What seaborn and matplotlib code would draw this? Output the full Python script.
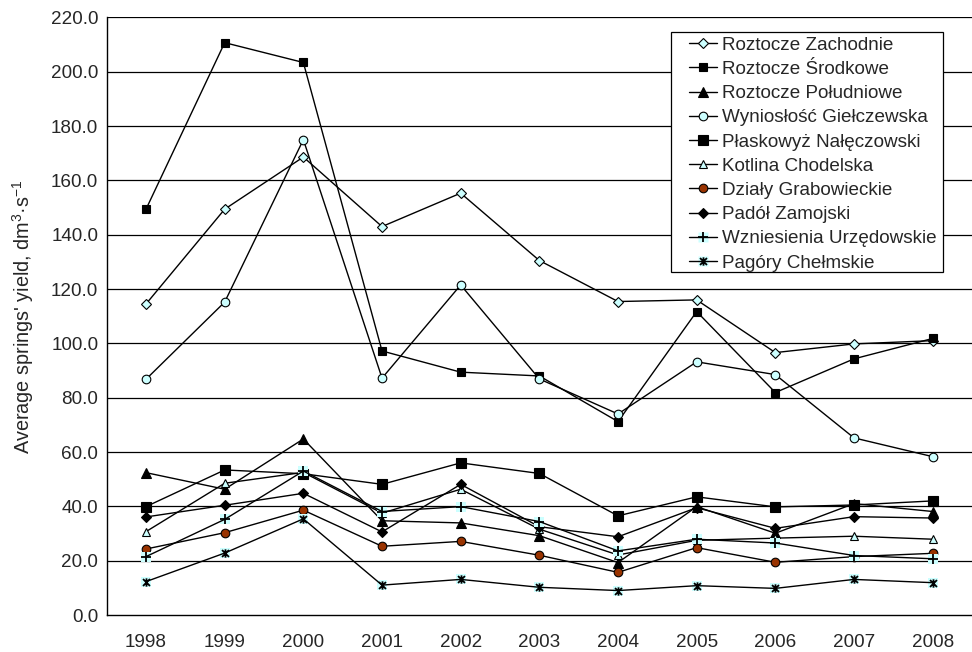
import numpy as np
import matplotlib
matplotlib.use("Agg")
import matplotlib.pyplot as plt
import seaborn as sns
from matplotlib.path import Path
from matplotlib.lines import Line2D
from matplotlib.patches import Rectangle
from matplotlib.legend_handler import HandlerTuple

# ---------------- data ----------------
years = ["1998", "1999", "2000", "2001", "2002", "2003", "2004", "2005", "2006", "2007", "2008"]

roztocze_zachodnie = [114.5, 149.4, 168.6, 143.0, 155.3, 130.5, 115.4, 116.0, 96.6, 99.8, 101.0]
roztocze_srodkowe = [149.4, 210.7, 203.4, 97.2, 89.4, 88.0, 71.2, 111.7, 81.9, 94.3, 101.8]
roztocze_poludniowe = [52.4, 46.3, 64.8, 34.7, 33.9, 29.2, 19.3, 39.9, 30.1, 41.0, 38.1]
wyniosl_gielczewska = [86.8, 115.2, 175.0, 87.2, 121.5, 86.9, 74.0, 93.2, 88.5, 65.2, 58.3]
plaskowyz_naleczowski = [39.9, 53.4, 52.0, 48.1, 56.0, 52.1, 36.5, 43.5, 39.8, 40.5, 42.0]
kotlina_chodelska = [30.7, 48.5, 52.5, 37.5, 46.3, 31.6, 22.1, 27.5, 28.3, 29.0, 27.9]
dzialy_grabowieckie = [24.3, 30.3, 38.6, 25.3, 27.1, 22.0, 15.7, 24.8, 19.4, 21.5, 22.7]
padol_zamojski = [36.1, 40.4, 44.8, 30.6, 48.1, 32.5, 28.8, 39.5, 31.9, 36.2, 35.7]
wzniesienia_urzedowskie = [21.5, 35.2, 53.0, 38.1, 39.9, 34.4, 23.6, 27.9, 26.5, 21.9, 20.7]
pagory_chelmskie = [12.3, 22.8, 35.4, 11.0, 13.1, 10.2, 9.0, 10.8, 9.8, 13.1, 11.9]

labels = ["Roztocze Zachodnie", "Roztocze Środkowe", "Roztocze Południowe",
          "Wyniosłość Giełczewska", "Płaskowyż Nałęczowski", "Kotlina Chodelska",
          "Działy Grabowieckie", "Padół Zamojski", "Wzniesienia Urzędowskie",
          "Pagóry Chełmskie"]
y_ticks = [0, 20, 40, 60, 80, 100, 120, 140, 160, 180, 200, 220]

series = [roztocze_zachodnie, roztocze_srodkowe, roztocze_poludniowe, wyniosl_gielczewska,
          plaskowyz_naleczowski, kotlina_chodelska, dzialy_grabowieckie, padol_zamojski,
          wzniesienia_urzedowskie, pagory_chelmskie]

# ---------------- styles ----------------
CYAN = "#CCFFFF"
BROWN = "#993300"
star_path = Path([(-1, -1), (1, 1), (-1, 1), (1, -1), (0, -1.2), (0, 1.2)],
                 [Path.MOVETO, Path.LINETO, Path.MOVETO, Path.LINETO, Path.MOVETO, Path.LINETO])

styles = [
    dict(marker="D", ms=5.0, mfc=CYAN, mec="black", mew=0.8, bg=False),
    dict(marker="s", ms=5.2, mfc="black", mec="black", mew=0.8, bg=False),
    dict(marker="^", ms=6.8, mfc="black", mec="black", mew=0.8, bg=False),
    dict(marker="o", ms=6.2, mfc=CYAN, mec="black", mew=0.8, bg=False),
    dict(marker="s", ms=6.6, mfc="black", mec="black", mew=0.8, bg=False),
    dict(marker="^", ms=6.2, mfc=CYAN, mec="black", mew=0.8, bg=False),
    dict(marker="o", ms=6.2, mfc=BROWN, mec="black", mew=0.8, bg=False),
    dict(marker="D", ms=5.4, mfc="black", mec="black", mew=0.8, bg=False),
    dict(marker="+", ms=7.5, mfc="black", mec="black", mew=1.3, bg=True),
    dict(marker=star_path, ms=6.0, mfc="none", mec="black", mew=1.3, bg=True),
]

sns.set_style("white")
plt.rcParams["font.family"] = ["Liberation Sans", "DejaVu Sans"]
plt.rcParams["mathtext.fontset"] = "custom"
plt.rcParams["mathtext.rm"] = "Liberation Sans"
plt.rcParams["mathtext.it"] = "Liberation Sans:italic"
plt.rcParams["mathtext.default"] = "regular"

W, H = 972, 652
FS = 13.6
fig = plt.figure(figsize=(W / 100, H / 100), dpi=100)
ax = fig.add_axes([106.7 / W, 1 - 615 / H, (W - 106.7) / W, (615 - 17.4) / H])

x = np.arange(len(years))
handles = []
for i, (vals, lab, st) in enumerate(zip(series, labels, styles)):
    z = 3 + i * 0.1
    sns.lineplot(x=x, y=vals, ax=ax, color="black", lw=1.0, marker=st["marker"],
                 markersize=st["ms"], markerfacecolor=st["mfc"], markeredgecolor=st["mec"],
                 markeredgewidth=st["mew"], zorder=z, label=None, legend=False)
    line_h = Line2D([], [], color="black", lw=1.0, marker=st["marker"], markersize=st["ms"],
                    markerfacecolor=st["mfc"], markeredgecolor=st["mec"], markeredgewidth=st["mew"])
    if st["bg"]:
        sns.scatterplot(x=x, y=vals, ax=ax, marker="s", s=50, color=CYAN, linewidth=0,
                        zorder=z - 0.05, legend=False)
        bg_h = Line2D([], [], ls="none", marker="s", markersize=6.8, markerfacecolor=CYAN,
                      markeredgecolor="none")
        handles.append((bg_h, line_h))
    else:
        handles.append(line_h)

# ---------------- axes ----------------
ax.set_xlim(-0.5, len(years) - 0.5)
ax.set_ylim(0, 220)
ax.set_yticks(y_ticks)
ax.set_yticklabels([f"{v:.1f}" for v in y_ticks], fontsize=FS)
ax.set_xticks(np.arange(-0.5, len(years), 1.0))
ax.set_xticklabels([])
ax.set_xticks(x, minor=True)
ax.set_xticklabels(years, minor=True, fontsize=FS)
ax.tick_params(axis="x", which="major", direction="out", length=6, width=1, color="black")
ax.tick_params(axis="x", which="minor", length=0, pad=14)
ax.tick_params(axis="y", direction="out", length=5, width=1, color="black", pad=1)
for t in y_ticks[1:]:
    ax.axhline(t, color="black", lw=0.9, zorder=1)
for s in ["top", "right"]:
    ax.spines[s].set_visible(False)
for s in ["left", "bottom"]:
    ax.spines[s].set_color("black")
    ax.spines[s].set_linewidth(1.0)
ax.set_xlabel("")
ax.set_ylabel("Average springs' yield, dm$^{3}$·s$^{-1}$", fontsize=14.3)
ax.yaxis.set_label_coords((36 - 106.7) / (W - 106.7), 0.5)

# legend frame (drawn separately to match asymmetric padding)
frame = Rectangle((670.7 / W, 1 - 271.7 / H), (943.3 - 670.7) / W, (271.7 - 32.3) / H,
                  transform=fig.transFigure, facecolor="white", edgecolor="black",
                  linewidth=0.9, zorder=9)
fig.patches.append(frame)

leg = fig.legend(handles, labels, loc="upper left", bbox_to_anchor=(689 / W, 1 - 36.5 / H),
                 fontsize=FS, frameon=False, numpoints=1,
                 handlelength=1.5, handletextpad=0.25, labelspacing=0.37, borderpad=0.0,
                 borderaxespad=0, handler_map={tuple: HandlerTuple(ndivide=1)})
leg.set_zorder(10)

fig.savefig("out.png", dpi=100, facecolor="white")
